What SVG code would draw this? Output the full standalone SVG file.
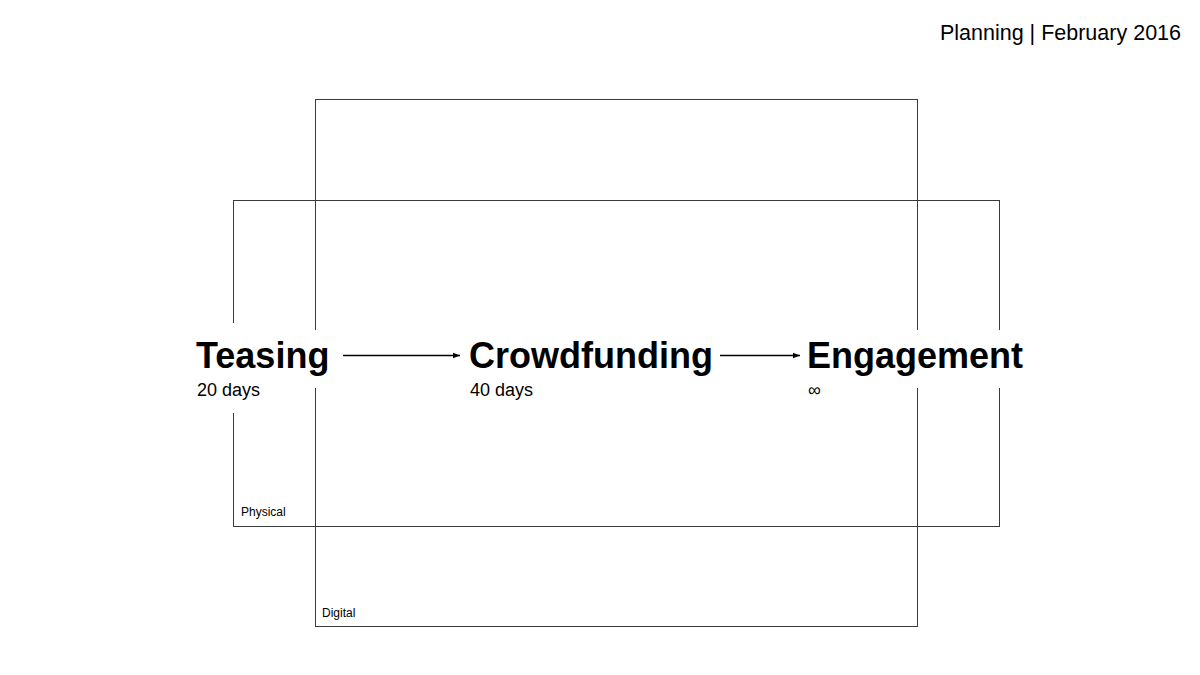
<svg xmlns="http://www.w3.org/2000/svg" width="1200" height="675" viewBox="0 0 1200 675">
<defs>
<style>
.frame{fill:none;stroke:#3a3a3a;stroke-width:1}
.title{font-family:"Liberation Sans",Arial,sans-serif;font-weight:bold;font-size:36px;fill:#000}
.sub{font-family:"Liberation Sans",Arial,sans-serif;font-size:18px;fill:#000}
.small{font-family:"Liberation Sans",Arial,sans-serif;font-size:12px;fill:#000}
.head{font-family:"Liberation Sans",Arial,sans-serif;font-size:21.5px;fill:#000}
.bg{fill:#fff}
.arrow{stroke:#000;stroke-width:1.3;fill:none}
</style>
<marker id="ah" viewBox="0 0 10 10" refX="10" refY="5" markerWidth="7" markerHeight="7" markerUnits="userSpaceOnUse" orient="auto">
<path d="M0,1 L10,5 L0,9 Z" fill="#000"/>
</marker>
</defs>
<rect width="1200" height="675" fill="#fff"/>
<text class="head" x="1181" y="40" text-anchor="end">Planning | February 2016</text>
<g id="digital">
<rect class="frame" x="315.5" y="99.5" width="602" height="527"/>
<text class="small" x="322" y="617">Digital</text>
</g>
<g id="physical">
<rect class="frame" x="233.5" y="200.5" width="766" height="326"/>
<text class="small" x="241" y="516">Physical</text>
</g>
<g id="teasing">
<rect class="bg" x="188" y="323" width="80" height="90"/>
<rect class="bg" x="188" y="330" width="145" height="58"/>
<text class="title" x="196" y="368">Teasing</text>
<text class="sub" x="197" y="396">20 days</text>
</g>
<g id="crowdfunding">
<text class="title" x="469" y="368">Crowdfunding</text>
<text class="sub" x="470" y="396">40 days</text>
</g>
<g id="engagement">
<rect class="bg" x="803" y="330" width="230" height="58"/>
<text class="title" x="807" y="368">Engagement</text>
<text class="sub" x="808" y="396">∞</text>
</g>
<g id="connectors">
<line class="arrow" x1="343" y1="355.5" x2="460" y2="355.5" marker-end="url(#ah)"/>
<line class="arrow" x1="720" y1="355.5" x2="800" y2="355.5" marker-end="url(#ah)"/>
</g>
</svg>
